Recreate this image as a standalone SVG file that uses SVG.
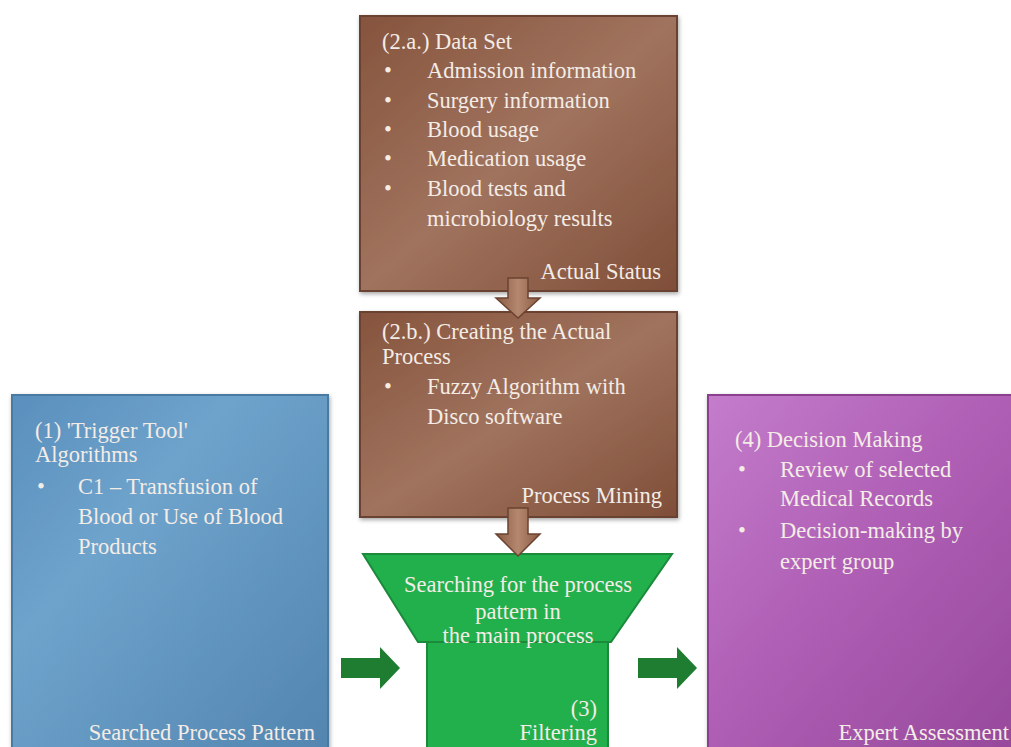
<svg xmlns="http://www.w3.org/2000/svg" width="1011" height="747" viewBox="0 0 1011 747">
<style>
text{font-family:"Liberation Serif","Times New Roman",serif;font-size:22.5px;fill:#f4ece6}
.r{text-anchor:end}
.m{text-anchor:middle}
.bw{stroke:#6b4330;stroke-width:2}
</style>
<defs>
<linearGradient id="gBrown" x1="0" y1="0" x2="1" y2="1">
<stop offset="0" stop-color="#86543d"/><stop offset="0.5" stop-color="#a0735e"/><stop offset="1" stop-color="#7f4e38"/>
</linearGradient>
<linearGradient id="gBlue" x1="0" y1="0" x2="1" y2="1">
<stop offset="0" stop-color="#5a8fbd"/><stop offset="0.35" stop-color="#6ea3cc"/><stop offset="1" stop-color="#5285af"/>
</linearGradient>
<linearGradient id="gPurple" x1="0" y1="0" x2="1" y2="1">
<stop offset="0" stop-color="#c47ccb"/><stop offset="0.5" stop-color="#ad5db3"/><stop offset="1" stop-color="#95489a"/>
</linearGradient>
<linearGradient id="gArrow" x1="0" y1="0" x2="1" y2="0">
<stop offset="0" stop-color="#8a5b44"/><stop offset="0.5" stop-color="#b4876f"/><stop offset="1" stop-color="#8a5b44"/>
</linearGradient>
<filter id="sh" x="-5%" y="-5%" width="110%" height="110%">
<feDropShadow dx="1" dy="2" stdDeviation="2" flood-color="#000" flood-opacity="0.35"/>
</filter>
</defs>
<rect width="1011" height="747" fill="#ffffff"/>

<g id="node-2a">
<rect x="360" y="16" width="317" height="275" fill="url(#gBrown)" class="bw" filter="url(#sh)"/>
<text x="382" y="49">(2.a.) Data Set</text>
<text x="384" y="78">•</text><text x="427" y="78">Admission information</text>
<text x="384" y="108">•</text><text x="427" y="108">Surgery information</text>
<text x="384" y="137">•</text><text x="427" y="137">Blood usage</text>
<text x="384" y="166">•</text><text x="427" y="166">Medication usage</text>
<text x="384" y="196">•</text><text x="427" y="196">Blood tests and</text>
<text x="427" y="226">microbiology results</text>
<text class="r" x="661" y="279">Actual Status</text>
</g>

<g id="node-2b">
<rect x="360" y="312" width="317" height="205" fill="url(#gBrown)" class="bw" filter="url(#sh)"/>
<text x="382" y="339">(2.b.) Creating  the Actual</text>
<text x="382" y="364">Process</text>
<text x="384" y="394">•</text><text x="427" y="394">Fuzzy Algorithm  with</text>
<text x="427" y="424">Disco software</text>
<text class="r" x="662" y="503">Process Mining</text>
</g>

<g id="node-1">
<rect x="12" y="395" width="316" height="360" fill="url(#gBlue)" stroke="#4a7aa2" stroke-width="2" filter="url(#sh)"/>
<text x="35" y="438">(1) 'Trigger  Tool'</text>
<text x="35" y="462">Algorithms</text>
<text x="37" y="494">•</text><text x="78" y="494">C1 – Transfusion of</text>
<text x="78" y="524">Blood or Use of Blood</text>
<text x="78" y="554">Products</text>
<text class="r" x="315" y="740">Searched Process Pattern</text>
</g>

<g id="node-4">
<rect x="708" y="395" width="320" height="360" fill="url(#gPurple)" stroke="#8a3f8f" stroke-width="2" filter="url(#sh)"/>
<text x="735" y="447">(4) Decision Making</text>
<text x="738" y="477">•</text><text x="780" y="477">Review  of selected</text>
<text x="780" y="506">Medical  Records</text>
<text x="738" y="538">•</text><text x="780" y="538">Decision-making  by</text>
<text x="780" y="569">expert group</text>
<text class="r" x="1009" y="740">Expert Assessment</text>
</g>

<g id="node-3">
<rect x="427" y="641" width="181" height="115" fill="#22b04d" stroke="#1b8a3b" stroke-width="2"/>
<polygon points="363,554 672,554 611,642 418,642" fill="#22b04d" stroke="#1b8a3b" stroke-width="2"/>
<text class="m" x="518" y="592">Searching  for the process</text>
<text class="m" x="518" y="619">pattern  in</text>
<text class="m" x="518" y="643">the main  process</text>
<text class="r" x="597" y="716">(3)</text>
<text class="r" x="597" y="740">Filtering</text>
</g>

<g id="connectors">
<polygon points="508,278 528,278 528,298 540,298 518,318 496,298 508,298" fill="url(#gArrow)" stroke="#6b4330" stroke-width="1.5"/>
<polygon points="508,508 528,508 528,534 540,534 518,556 496,534 508,534" fill="url(#gArrow)" stroke="#6b4330" stroke-width="1.5"/>
<polygon points="341,658 380,658 380,647 400,668 380,689 380,678 341,678" fill="#1f7d32"/>
<polygon points="638,658 677,658 677,647 697,668 677,689 677,678 638,678" fill="#1f7d32"/>
</g>
</svg>
